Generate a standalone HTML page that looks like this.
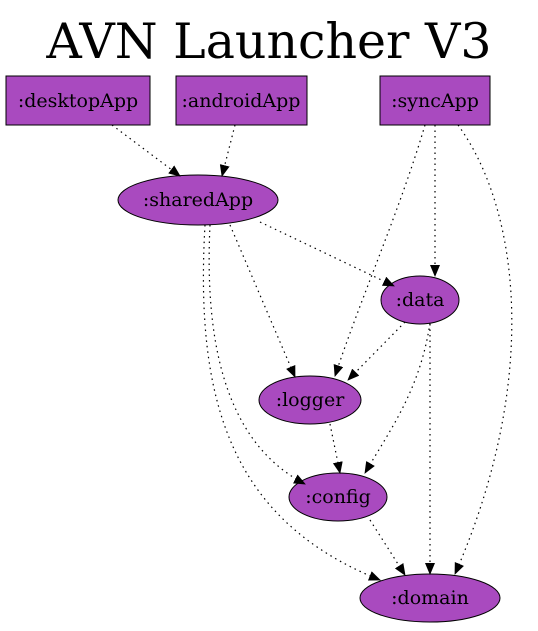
<!DOCTYPE html>
<html><head><meta charset="utf-8"><style>
html,body{margin:0;padding:0;background:#fff;}
svg{display:block;}
text{font-family:"DejaVu Serif","Liberation Serif",serif;}
</style></head><body>
<svg width="538" height="631" viewBox="0 0 538 631" xmlns="http://www.w3.org/2000/svg">
<defs>
<marker id="a" markerWidth="12" markerHeight="10" refX="11" refY="5" orient="auto" markerUnits="userSpaceOnUse">
<path d="M0,0 L12,5 L0,10 Z" fill="#000"/>
</marker>
</defs>
<text x="269" y="58" font-size="49" text-anchor="middle">AVN Launcher V3</text>
<g fill="#a94abf" stroke="#000" stroke-width="1">
<rect x="6" y="76" width="144" height="49"/>
<rect x="176" y="76" width="131" height="49"/>
<rect x="380" y="76" width="110" height="49"/>
<ellipse cx="198" cy="200" rx="80" ry="25"/>
<ellipse cx="420" cy="300" rx="39" ry="24"/>
<ellipse cx="310" cy="400" rx="51" ry="24"/>
<ellipse cx="338" cy="497" rx="49" ry="24"/>
<ellipse cx="430" cy="598" rx="70" ry="24"/>
</g>
<g font-size="19" text-anchor="middle">
<text x="78" y="107">:desktopApp</text>
<text x="241" y="107">:androidApp</text>
<text x="435" y="107">:syncApp</text>
<text x="198" y="206">:sharedApp</text>
<text x="420" y="306">:data</text>
<text x="310" y="406">:logger</text>
<text x="338" y="503">:config</text>
<text x="430" y="604">:domain</text>
</g>
<g fill="none" stroke="#000" stroke-width="1.2" stroke-dasharray="1.5,4" marker-end="url(#a)">
<path d="M112,125 L180,176"/>
<path d="M235,125 L222,176"/>
<path d="M425,125 C400,210 360,300 335,376"/>
<path d="M435,125 L435,276"/>
<path d="M458,125 C520,210 540,380 455,574"/>
<path d="M260,222 L394,286"/>
<path d="M230,225 L295,377"/>
<path d="M210,225 C205,330 220,440 305,484"/>
<path d="M205,225 C195,400 230,520 380,580"/>
<path d="M405,322 L348,380"/>
<path d="M430,323 C420,390 390,430 365,473"/>
<path d="M430,324 L430,574"/>
<path d="M330,424 L340,473"/>
<path d="M370,520 L405,575"/>
</g>
</svg>
</body></html>
